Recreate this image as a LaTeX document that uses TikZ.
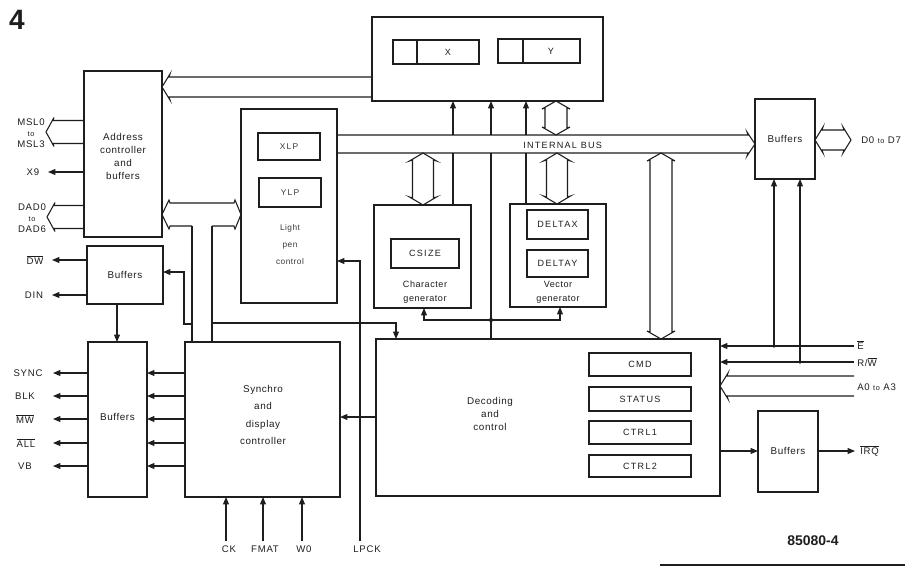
\documentclass[tikz,border=0pt]{standalone}
\usepackage{fontspec}
\setmainfont{Liberation Sans}
\newfontfamily\lblf[LetterSpace=8]{Liberation Sans}
\newfontfamily\regf[LetterSpace=14]{Liberation Sans}
\newfontfamily\boxf[LetterSpace=6]{Liberation Sans}
\usetikzlibrary{arrows.meta,calc}
\definecolor{ink}{HTML}{1E1E1E}
\definecolor{soft}{HTML}{3A3A3A}
\newcommand\ovl[1]{$\overline{\mbox{#1}}$}
\newcommand\bx[6][]{\node[box,#1,minimum width={(#5-#3)*0.75pt},minimum height={(#6-#4)*0.75pt}] (#2) at ({(#3+#5)/2},{(#4+#6)/2}) {};}
% horizontal bus, tip at left (#1), open end at right (#2), centre y #3, half width #4
\newcommand\busHL[4]{\draw[busl] ({#2},{#3-#4}) -- ({#1+7},{#3-#4}) -- ({#1+8},{#3-#4-3}) -- (#1,#3) -- ({#1+8},{#3+#4+3}) -- ({#1+7},{#3+#4}) -- ({#2},{#3+#4});}
% horizontal bus, open end at left (#1), tip at right (#2)
\newcommand\busHR[4]{\draw[busl] ({#1},{#3-#4}) -- ({#2-7},{#3-#4}) -- ({#2-8},{#3-#4-3}) -- (#2,#3) -- ({#2-8},{#3+#4+3}) -- ({#2-7},{#3+#4}) -- ({#1},{#3+#4});}
% horizontal bus, tips at both ends
\newcommand\busHH[4]{\draw[busl] ({#1+7},{#3-#4}) -- ({#2-7},{#3-#4}) -- ({#2-8},{#3-#4-3}) -- (#2,#3) -- ({#2-8},{#3+#4+3}) -- ({#2-7},{#3+#4}) -- ({#1+7},{#3+#4}) -- ({#1+8},{#3+#4+3}) -- (#1,#3) -- ({#1+8},{#3-#4-3}) -- cycle;}
% vertical bus, x #1, tips at #2 (top) and #3 (bottom), half width #4
\newcommand\busVV[4]{\draw[busl] ({#1-#4},{#2+7}) -- ({#1-#4},{#3-7}) -- ({#1-#4-3},{#3-8}) -- (#1,#3) -- ({#1+#4+3},{#3-8}) -- ({#1+#4},{#3-7}) -- ({#1+#4},{#2+7}) -- ({#1+#4+3},{#2+8}) -- (#1,#2) -- ({#1-#4-3},{#2+8}) -- cycle;}
\begin{document}
\begin{tikzpicture}[x=0.75pt,y=-0.75pt,
  box/.style={draw=ink,line width=1.7pt,rectangle,inner sep=0pt,outer sep=0pt},
  reg/.style={box,line width=0.9pt},
  sig/.style={draw=ink,line width=0.8pt},
  arr/.style={sig,-{Triangle[length=5.5pt,width=4.4pt]}},
  busl/.style={draw=ink,line width=0.8pt,line join=miter},
  txt/.style={font=\fontsize{7.4}{9.75}\boxf,align=center,text=ink,inner sep=0pt},
  rtxt/.style={font=\fontsize{6.8}{8}\regf,text=ink,inner sep=0pt},
  lbl/.style={font=\fontsize{7.2}{8.25}\lblf,align=center,text=ink,inner sep=0pt},
  dot/.style={fill=ink}]
\useasboundingbox (0,0) rectangle (913,567);
\fill[white] (0,0) rectangle (913,567);

% ---------- boxes ----------
\bx{top}{372}{17}{603}{101}
\bx[reg]{regx}{393}{40}{479}{64}
\bx[reg]{regy}{498}{39}{580}{63}
\draw[sig,line width=0.9pt] (417,0 |- regx.north) -- (417,0 |- regx.south);
\draw[sig,line width=0.9pt] (523,0 |- regy.north) -- (523,0 |- regy.south);
\node[rtxt] (tx) at (448,52) {X};
\node[rtxt] (ty) at (551,51) {Y};

\bx{addr}{84}{71}{162}{237}
\node[txt] (taddr) at (123,156) {Address\\controller\\and\\buffers};

\bx[line width=1.3pt]{lp}{241}{109}{337}{303}
\bx[reg]{xlp}{258}{133}{320}{160}
\bx[reg]{ylp}{259}{178}{321}{207}
\node[rtxt,text=soft,font=\fontsize{6.3}{8}\regf] (txlp) at (289,146.5) {XLP};
\node[rtxt,text=soft,font=\fontsize{6.3}{8}\regf] (tylp) at (290,192.5) {YLP};
\node[txt,text=soft,font=\fontsize{6.2}{12.75}\boxf] (tlp) at (290,245) {Light\\pen\\control};

\bx{buftr}{755}{99}{815}{179}
\node[txt] (tbuftr) at (785,139) {Buffers};
\bx{bufdw}{87}{246}{163}{304}
\node[txt] (tbufdw) at (125,275) {Buffers};
\bx{bufl}{88}{342}{147}{497}
\node[txt] (tbufl) at (117.5,417) {Buffers};
\bx{sync}{185}{342}{340}{497}
\node[txt,font=\fontsize{7.4}{13}\boxf] (tsync) at (263,415) {Synchro\\and\\display\\controller};

\bx{cg}{374}{205}{471}{308}
\bx[reg]{csize}{391}{239}{459}{268}
\node[rtxt] (tcsize) at (425,253.5) {CSIZE};
\node[txt,font=\fontsize{6.8}{10.5}\boxf] (tcg) at (425,292) {Character\\generator};
\bx{vg}{510}{204}{606}{307}
\bx[reg]{dx}{527}{210}{588}{239}
\bx[reg]{dy}{527}{250}{588}{277}
\node[rtxt] (tdx) at (557.5,224.5) {DELTAX};
\node[rtxt] (tdy) at (557.5,263.5) {DELTAY};
\node[txt,font=\fontsize{6.8}{10.5}\boxf] (tvg) at (558,292) {Vector\\generator};

\bx{dec}{376}{339}{720}{496}
\node[txt,font=\fontsize{7.4}{10}\boxf] (tdec) at (490,414) {Decoding\\and\\control};
\bx[reg]{cmd}{589}{353}{691}{376}
\bx[reg]{status}{589}{387}{691}{411}
\bx[reg]{ctrla}{589}{421}{691}{444}
\bx[reg]{ctrlb}{589}{455}{691}{477}
\node[rtxt] (tcmd) at (640,364.5) {CMD};
\node[rtxt] (tstatus) at (640,399) {STATUS};
\node[rtxt] (tctrla) at (640,432.5) {CTRL1};
\node[rtxt] (tctrlb) at (640,466) {CTRL2};

\bx{bufirq}{758}{411}{818}{492}
\node[txt] (tbufirq) at (788,451) {Buffers};

% ---------- buses ----------
\busHL{162}{372}{87}{10}
\busHL{46}{84}{132}{11.5}
\busHL{47}{84}{217}{11.5}
\draw[busl] (192,226) -- (170,226) -- (169,229) -- (162,214.5) -- (169,200) -- (170,203) -- (234,203) -- (235,200) -- (241,214.5) -- (235,229) -- (234,226) -- (212,226);
\draw[sig] (192,226) -- (192,0 |- sync.north);
\draw[sig] (212,226) -- (212,0 |- sync.north);
\busHR{337}{755}{144}{9}
\node[lbl,font=\fontsize{6.8}{8}\regf,anchor=west] (tib) at (523,145) {INTERNAL BUS};
\busHH{815}{851}{140}{10}
\busHL{720}{854}{386}{10}
\busVV{556}{101}{135}{11}
\busVV{423}{153}{205}{10.5}
\busVV{557}{153}{204}{10.5}
\busVV{661}{153}{339}{11}

% ---------- signals (interrupted inside the internal bus band) ----------
\draw[sig] (453,0 |- cg.north) -- (453,153);
\draw[arr] (453,135) -- (453,0 |- top.south);
\draw[sig] (526,0 |- vg.north) -- (526,153);
\draw[arr] (526,135) -- (526,0 |- top.south);
\draw[sig] (491,0 |- dec.north) -- (491,153);
\draw[arr] (491,135) -- (491,0 |- top.south);
\coordinate (jn) at (491,320);
\draw[arr] (jn) -| (424,0 |- cg.south);
\draw[arr] (jn) -| (560,0 |- vg.south);
\fill[dot] (jn) circle (1.6pt);

\draw[arr] (192,324) -| (184,272) -- (bufdw.east |- 0,272);
\draw[arr] (212,323) -| (396,0 |- dec.north);
\draw[arr] (360,541) |- (lp.east |- 0,261);
\draw[arr] (dec.west |- 0,417) -- (sync.east |- 0,417);
\draw[arr] (117,0 |- bufdw.south) -- (117,0 |- bufl.north);

\foreach \yy in {373,396,419,443,466}{
  \draw[arr] (sync.west |- 0,\yy) -- (bufl.east |- 0,\yy);
  \draw[arr] (bufl.west |- 0,\yy) -- (53,\yy);
}
\draw[arr] (bufdw.west |- 0,260) -- (52,260);
\draw[arr] (bufdw.west |- 0,295) -- (52,295);
\draw[arr] (addr.west |- 0,172) -- (48,172);

\draw[arr] (854,346) -- (dec.east |- 0,346);
\draw[arr] (854,362) -- (dec.east |- 0,362);
\draw[arr] (774,346) -- (774,0 |- buftr.south);
\draw[arr] (800,362) -- (800,0 |- buftr.south);
\fill[dot] (774,346) circle (1.4pt);
\fill[dot] (800,362) circle (1.4pt);
\draw[arr] (dec.east |- 0,451) -- (bufirq.west |- 0,451);
\draw[arr] (bufirq.east |- 0,451) -- (855,451);

\draw[arr] (226,541) -- (226,0 |- sync.south);
\draw[arr] (263,541) -- (263,0 |- sync.south);
\draw[arr] (302,541) -- (302,0 |- sync.south);

% ---------- labels ----------
\node[lbl] (lmsl) at (31,133) {MSL0\\{\fontsize{5.5}{6}\selectfont to}\\MSL3};
\node[lbl] (lx9) at (33,172) {X9};
\node[lbl] (ldad) at (32,218) {DAD0\\{\fontsize{5.5}{6}\selectfont to}\\DAD6};
\node[lbl] (ldw) at (35,260) {\ovl{DW}};
\node[lbl] (ldin) at (34,295) {DIN};
\node[lbl] (lsync) at (28,373) {SYNC};
\node[lbl] (lblk) at (25,396) {BLK};
\node[lbl] (lmw) at (25,419) {\ovl{MW}};
\node[lbl] (lall) at (26,443) {\ovl{ALL}};
\node[lbl] (lvb) at (25,466) {VB};
\node[lbl] (lck) at (229,549) {CK};
\node[lbl] (lfmat) at (265,549) {FMAT};
\node[lbl] (lwo) at (304,549) {W0};
\node[lbl] (llpck) at (367,549) {LPCK};
\node[lbl,anchor=west] (ld) at (861,140) {D0 {\fontsize{5.5}{6}\selectfont to} D7};
\node[lbl,anchor=west] (le) at (857,345) {\ovl{E}};
\node[lbl,anchor=west] (lrw) at (857,362) {R/\ovl{W}};
\node[lbl,anchor=west] (la) at (857,387) {A0 {\fontsize{5.5}{6}\selectfont to} A3};
\node[lbl,anchor=west] (lirq) at (860,451) {\ovl{IRQ}};
\node[font=\fontsize{10.5}{12}\bfseries,text=ink,inner sep=0pt] (fig) at (813,541) {85080-4};
\node[font=\fontsize{21}{24}\bfseries,text=ink,inner sep=0pt] (num) at (17,20) {4};
\draw[ink,line width=2pt] (660,565) -- (905,565);
\end{tikzpicture}
\end{document}
